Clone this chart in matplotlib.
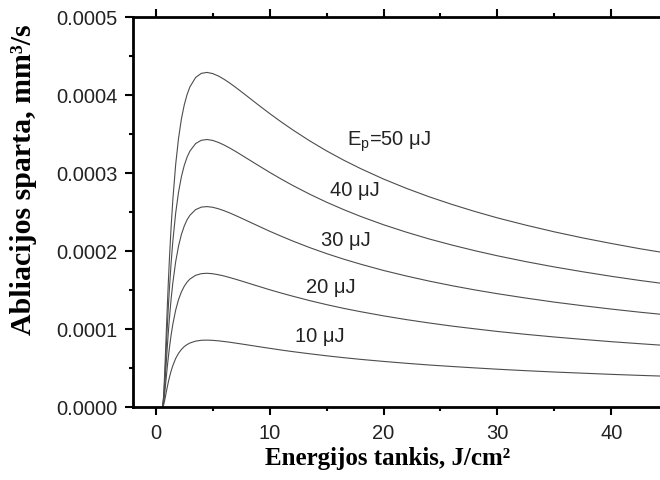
import matplotlib
matplotlib.use("Agg")
import matplotlib.pyplot as plt
from matplotlib.ticker import MultipleLocator

# fluence points (J/cm2) and ablation rate, in 1e-4 mm3/s
fluence = [0.6, 0.7, 0.8, 0.9, 1.0, 1.1, 1.2, 1.35, 1.5, 1.75, 2.0, 2.25,
           2.5, 2.75, 3.0, 3.5, 4.0, 4.5, 5.0, 5.5, 6.0, 6.5, 7.0, 7.5, 8.0,
           9.0, 10.0, 11.0, 12.0, 13.5, 15.0, 16.5, 18.0, 20.0, 22.0, 24.0,
           26.0, 28.0, 30.0, 32.5, 35.0, 37.5, 40.0, 42.5, 45.0]
rate_50 = [0, 0.161, 0.492, 0.869, 1.241, 1.588, 1.904, 2.316, 2.661, 3.113,
           3.446, 3.692, 3.873, 4.007, 4.105, 4.225, 4.278, 4.290, 4.275,
           4.244, 4.202, 4.153, 4.100, 4.044, 3.988, 3.874, 3.763, 3.657,
           3.556, 3.414, 3.284, 3.165, 3.056, 2.923, 2.804, 2.696, 2.598,
           2.508, 2.425, 2.332, 2.246, 2.168, 2.097, 2.030, 1.970]
rate_40 = [0, 0.129, 0.393, 0.695, 0.992, 1.270, 1.522, 1.852, 2.128, 2.489,
           2.755, 2.952, 3.097, 3.204, 3.282, 3.378, 3.420, 3.430, 3.418,
           3.393, 3.359, 3.320, 3.278, 3.233, 3.188, 3.098, 3.009, 2.924,
           2.843, 2.730, 2.626, 2.531, 2.443, 2.337, 2.242, 2.155, 2.077,
           2.005, 1.939, 1.864, 1.796, 1.734, 1.676, 1.623, 1.575]
rate_30 = [0, 0.097, 0.295, 0.520, 0.743, 0.951, 1.141, 1.388, 1.594, 1.865,
           2.064, 2.212, 2.320, 2.401, 2.459, 2.531, 2.563, 2.570, 2.561,
           2.542, 2.517, 2.488, 2.456, 2.423, 2.389, 2.321, 2.254, 2.191,
           2.130, 2.045, 1.967, 1.896, 1.831, 1.751, 1.680, 1.615, 1.556,
           1.502, 1.453, 1.397, 1.345, 1.299, 1.256, 1.216, 1.180]
rate_20 = [0, 0.064, 0.197, 0.347, 0.496, 0.635, 0.761, 0.926, 1.064, 1.244,
           1.378, 1.476, 1.548, 1.602, 1.641, 1.689, 1.710, 1.715, 1.709,
           1.696, 1.680, 1.660, 1.639, 1.617, 1.594, 1.549, 1.504, 1.462,
           1.422, 1.365, 1.313, 1.265, 1.222, 1.169, 1.121, 1.078, 1.038,
           1.003, 0.969, 0.932, 0.898, 0.867, 0.838, 0.812, 0.787]
rate_10 = [0, 0.032, 0.098, 0.174, 0.248, 0.318, 0.381, 0.463, 0.532, 0.623,
           0.689, 0.738, 0.775, 0.801, 0.821, 0.845, 0.856, 0.858, 0.855,
           0.849, 0.840, 0.831, 0.820, 0.809, 0.798, 0.775, 0.753, 0.731,
           0.711, 0.683, 0.657, 0.633, 0.611, 0.585, 0.561, 0.539, 0.520,
           0.502, 0.485, 0.466, 0.449, 0.434, 0.419, 0.406, 0.394]

curves = [rate_50, rate_40, rate_30, rate_20, rate_10]
labels = [r"E$_{\mathregular{p}}$=50 μJ", "40 μJ", "30 μJ", "20 μJ", "10 μJ"]
label_x = [16.8, 15.3, 14.5, 13.2, 12.2]
label_y = [3.35, 2.70, 2.07, 1.46, 0.84]

plt.rcParams["font.family"] = ["Liberation Sans", "DejaVu Sans"]
plt.rcParams["mathtext.fontset"] = "custom"
plt.rcParams["mathtext.rm"] = "Liberation Sans"

fig = plt.figure(figsize=(6.6, 4.8), dpi=100)
ax = fig.add_axes([0.2015, 0.152, 0.811, 0.8125])

for rate in curves:
    ax.plot(fluence, [v * 1e-4 for v in rate], color="0.3", lw=0.8)

for text, x, y in zip(labels, label_x, label_y):
    ax.text(x, y * 1e-4, text, fontsize=14.5, color="#222222",
            ha="left", va="baseline")

ax.set_xlim(-2, 45)
ax.set_ylim(0, 0.0005)
ax.xaxis.set_major_locator(MultipleLocator(10))
ax.xaxis.set_minor_locator(MultipleLocator(5))
ax.yaxis.set_major_locator(MultipleLocator(0.0001))
ax.yaxis.set_minor_locator(MultipleLocator(0.00005))
ax.yaxis.set_major_formatter(plt.FuncFormatter(lambda v, p: f"{v:.4f}"))

ax.tick_params(which="both", direction="out", top=True, right=False,
               width=1.5, labelsize=14.5, labelcolor="#222222")
ax.tick_params(which="major", length=6)
ax.tick_params(which="minor", length=3)
ax.tick_params(axis="x", pad=6)
ax.tick_params(axis="y", pad=5)
for side in ["left", "bottom", "top"]:
    ax.spines[side].set_linewidth(2)
ax.spines["right"].set_visible(False)

ax.set_xlabel("Energijos tankis, J/cm²", family="Liberation Serif",
              fontweight="bold", fontsize=18)
ax.set_ylabel("Abliacijos sparta, mm³/s", family="Liberation Serif",
              fontweight="bold", fontsize=21.5)
ax.xaxis.set_label_coords(0.4757, -0.102)
ax.yaxis.set_label_coords(-0.179, 0.582)

fig.savefig("out.png", dpi=100)
